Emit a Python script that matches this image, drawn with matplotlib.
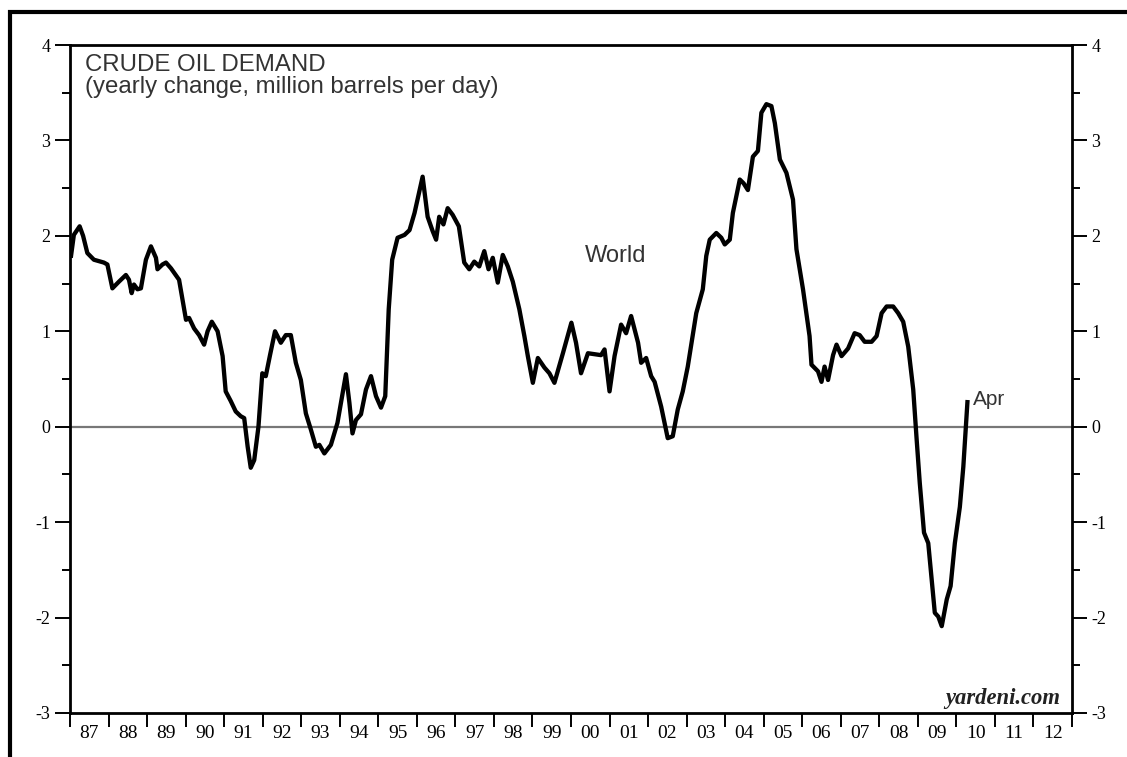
import matplotlib.pyplot as plt
from matplotlib.patches import Rectangle
from matplotlib.ticker import MultipleLocator

plt.rcParams["axes.unicode_minus"] = False

# world crude oil demand, yearly change (mb/d)
dates = [
    1987.02, 1987.10, 1987.25, 1987.34, 1987.45, 1987.62, 1987.88, 1987.97,
    1988.10, 1988.27, 1988.45, 1988.53, 1988.60, 1988.66, 1988.75, 1988.84, 1988.97,
    1989.10, 1989.23, 1989.27, 1989.40, 1989.49, 1989.62, 1989.83, 1989.92,
    1990.01, 1990.09, 1990.22, 1990.35, 1990.48, 1990.57, 1990.68, 1990.83, 1990.96,
    1991.04, 1991.17, 1991.30, 1991.43, 1991.52, 1991.61, 1991.69, 1991.78, 1991.89, 1991.99,
    1992.08, 1992.19, 1992.32, 1992.47, 1992.60, 1992.73, 1992.86, 1992.99,
    1993.12, 1993.25, 1993.38, 1993.47, 1993.60, 1993.77, 1993.94,
    1994.03, 1994.16, 1994.25, 1994.33, 1994.42, 1994.55, 1994.68, 1994.81, 1994.94,
    1995.07, 1995.18, 1995.27, 1995.36, 1995.50, 1995.68, 1995.81, 1995.94,
    1996.15, 1996.28, 1996.41, 1996.50, 1996.58, 1996.69, 1996.80, 1996.93,
    1997.09, 1997.23, 1997.36, 1997.49, 1997.62, 1997.75, 1997.86, 1997.97,
    1998.10, 1998.23, 1998.36, 1998.49, 1998.66, 1998.79, 1998.88,
    1999.01, 1999.14, 1999.31, 1999.44, 1999.57, 1999.79,
    2000.01, 2000.13, 2000.26, 2000.44, 2000.78, 2000.87,
    2001.00, 2001.13, 2001.30, 2001.43, 2001.56, 2001.74, 2001.82, 2001.95,
    2002.08, 2002.17, 2002.34, 2002.51, 2002.64, 2002.77, 2002.90,
    2003.03, 2003.25, 2003.42, 2003.51, 2003.60, 2003.77, 2003.90, 2003.99,
    2004.12, 2004.20, 2004.38, 2004.48, 2004.59, 2004.72, 2004.85, 2004.94,
    2005.07, 2005.20, 2005.29, 2005.42, 2005.59, 2005.76, 2005.85,
    2006.02, 2006.19, 2006.24, 2006.41, 2006.50, 2006.58, 2006.67, 2006.80, 2006.89,
    2007.02, 2007.19, 2007.36, 2007.49, 2007.62, 2007.80, 2007.93,
    2008.06, 2008.19, 2008.36, 2008.49, 2008.62, 2008.75, 2008.88, 2008.97,
    2009.05, 2009.16, 2009.27, 2009.36, 2009.44, 2009.53, 2009.62, 2009.75, 2009.85, 2009.96,
    2010.09, 2010.18, 2010.29,
]
values = [
    1.77, 2.01, 2.10, 2.00, 1.82, 1.75, 1.72, 1.70,
    1.45, 1.52, 1.59, 1.54, 1.40, 1.49, 1.44, 1.45, 1.75,
    1.89, 1.77, 1.65, 1.70, 1.72, 1.66, 1.54, 1.33,
    1.12, 1.14, 1.03, 0.96, 0.86, 1.00, 1.10, 1.00, 0.74,
    0.37, 0.27, 0.16, 0.11, 0.09, -0.21, -0.43, -0.35, 0.00, 0.56,
    0.53, 0.75, 1.00, 0.88, 0.96, 0.96, 0.67, 0.49,
    0.14, -0.03, -0.21, -0.19, -0.28, -0.19, 0.04,
    0.25, 0.55, 0.25, -0.07, 0.07, 0.13, 0.39, 0.53, 0.32,
    0.20, 0.32, 1.23, 1.75, 1.98, 2.01, 2.06, 2.24,
    2.62, 2.20, 2.05, 1.96, 2.20, 2.12, 2.29, 2.22,
    2.10, 1.72, 1.65, 1.73, 1.68, 1.84, 1.65, 1.77,
    1.51, 1.80, 1.68, 1.52, 1.23, 0.95, 0.74,
    0.46, 0.72, 0.62, 0.56, 0.46, 0.77,
    1.09, 0.88, 0.56, 0.77, 0.75, 0.81,
    0.37, 0.74, 1.07, 0.98, 1.16, 0.88, 0.67, 0.72,
    0.53, 0.47, 0.21, -0.12, -0.10, 0.18, 0.37,
    0.63, 1.19, 1.44, 1.79, 1.96, 2.03, 1.98, 1.91,
    1.96, 2.24, 2.59, 2.55, 2.48, 2.83, 2.89, 3.29,
    3.38, 3.36, 3.18, 2.80, 2.66, 2.38, 1.86,
    1.44, 0.95, 0.65, 0.58, 0.47, 0.63, 0.49, 0.75, 0.86,
    0.74, 0.82, 0.98, 0.96, 0.89, 0.89, 0.95,
    1.19, 1.26, 1.26, 1.19, 1.10, 0.84, 0.39, -0.14,
    -0.59, -1.11, -1.22, -1.60, -1.95, -1.99, -2.09, -1.81, -1.67, -1.22,
    -0.84, -0.42, 0.28,
]

years = list(range(1987, 2014))
year_labels = ["87", "88", "89", "90", "91", "92", "93", "94", "95", "96", "97", "98", "99",
               "00", "01", "02", "03", "04", "05", "06", "07", "08", "09", "10", "11", "12"]
y_ticks = [-3, -2, -1, 0, 1, 2, 3, 4]

W, H = 1127, 757
fig = plt.figure(figsize=(W / 100, H / 100), dpi=100)
ax = fig.add_axes([70 / W, 1 - 713 / H, 1002 / W, 668 / H])

ax.axhline(0, color="#777777", lw=1.6, zorder=1)
ax.plot(dates, values, color="black", lw=3.1, solid_joinstyle="round", solid_capstyle="butt", zorder=3)

ax.set_xlim(1987, 2013)
ax.set_ylim(-3, 4)

for s in ax.spines.values():
    s.set_linewidth(2.0)

# y axis on both sides
ax.set_yticks(y_ticks)
ax.yaxis.set_minor_locator(MultipleLocator(0.5))
ax.tick_params(axis="y", which="major", direction="out", length=11, width=1.4,
               left=True, right=True, labelleft=True, labelright=True,
               labelsize=13, pad=3, labelfontfamily="Liberation Serif")
ax.tick_params(axis="y", which="minor", direction="out", length=6, width=1.4,
               left=True, right=True)

# x axis: ticks at year start, labels mid-year
ax.set_xticks(years)
ax.set_xticklabels([])
ax.set_xticks([y + 0.5 for y in years[:-1]], labels=year_labels, minor=True)
ax.tick_params(axis="x", which="major", direction="out", length=10, width=1.4, top=False)
ax.tick_params(axis="x", which="minor", length=0, pad=9, labelsize=14,
               labelfontfamily="Liberation Serif")

fig.text(85 / W, 1 - 54 / H, "CRUDE OIL DEMAND", va="top", ha="left",
         fontsize=17.3, family="Liberation Sans", color="#333333")
fig.text(85 / W, 1 - 76 / H, "(yearly change, million barrels per day)", va="top", ha="left",
         fontsize=17.3, family="Liberation Sans", color="#333333")
fig.text(585 / W, 1 - 256 / H, "World", va="center", ha="left",
         fontsize=17, family="Liberation Sans", color="#333333")
ax.annotate("Apr", xy=(dates[-1], values[-1]), xytext=(4, 0), textcoords="offset points",
            va="center", ha="left", fontsize=15, family="Liberation Sans", color="#333333")
fig.text(1060 / W, 1 - 704 / H, "yardeni.com", va="baseline", ha="right",
         fontsize=16.3, family="Liberation Serif", weight="bold", style="italic", color="#222222")

# outer frame (only the left and top edges fall inside the image)
fig.add_artist(Rectangle((10 / W, -0.1), 1.2, 1 - 12 / H + 0.1, transform=fig.transFigure,
                         fill=False, edgecolor="black", lw=3.0))

fig.savefig("out.png", dpi=100)
